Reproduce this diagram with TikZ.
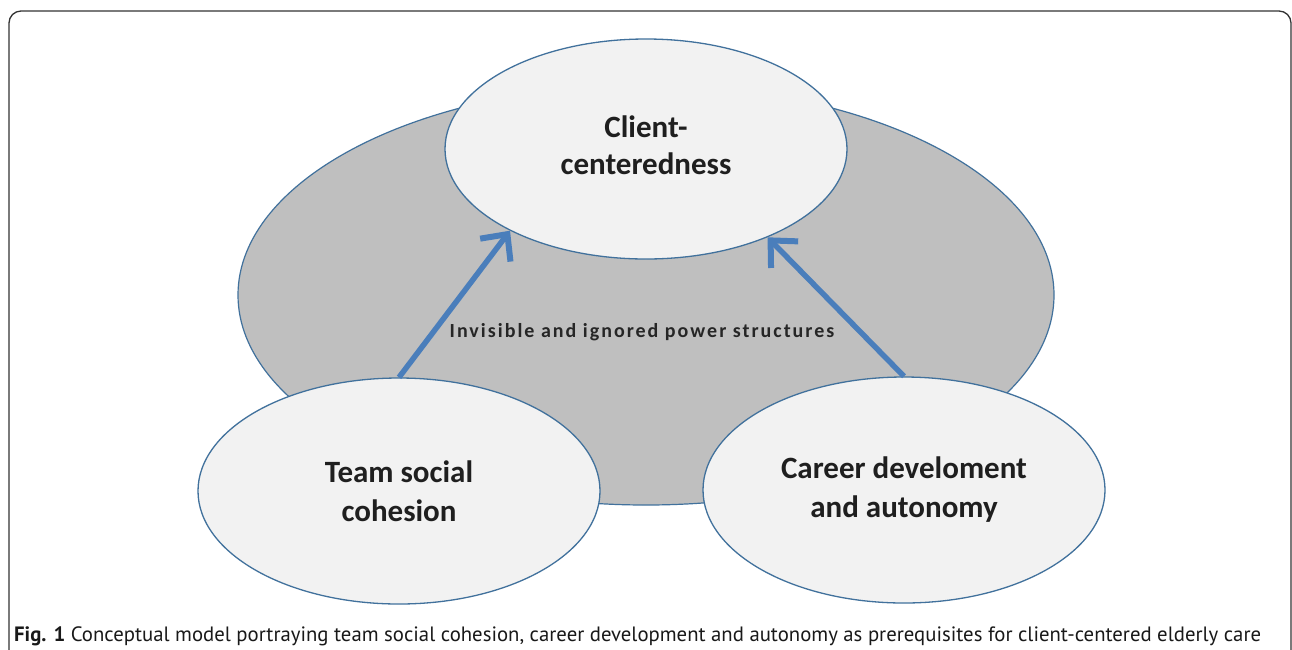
\documentclass[tikz,border=0pt]{standalone}
\usepackage{fontspec}
\setmainfont{Carlito}
\newfontfamily\capfont{PT Sans}
\newfontfamily\powerfont[LetterSpace=10]{Carlito}
\usetikzlibrary{shapes.geometric,arrows.meta}
\definecolor{edgeblue}{HTML}{41719C}
\definecolor{arrowblue}{HTML}{4A7EBB}
\definecolor{lightfill}{HTML}{F2F2F2}
\definecolor{grayfill}{HTML}{BFBFBF}
\definecolor{framegray}{HTML}{333333}
\begin{document}
\begin{tikzpicture}[x=1pt,y=-1pt,
  bubble/.style={ellipse,draw=edgeblue,line width=1.3pt,fill=lightfill,inner sep=0pt,
    minimum width=402pt,minimum height=226pt,align=center,
    font=\fontsize{31}{39}\selectfont\bfseries,text=black!88},
  flow/.style={draw=arrowblue,line width=5.5pt,
    -{Straight Barb[length=20pt,width=38pt,line width=6pt]}}]
\useasboundingbox (0,0) rectangle (1292,649);
\fill[white] (0,0) rectangle (1292,649);
% frame
\draw[framegray,line width=1.3pt] (9,660) -- (9,23) arc[start angle=180,end angle=270,radius=12] -- (1279,11) arc[start angle=270,end angle=360,radius=12] -- (1291,660);
% background ellipse
\node[ellipse,draw=edgeblue,line width=1.2pt,fill=grayfill,minimum width=816pt,minimum height=420pt,inner sep=0pt] (bg) at (646,295) {};
\node[bubble,minimum height=220pt,font=\fontsize{31}{37}\selectfont\bfseries] (client) at (646,149) {\raisebox{7pt}{\begin{tabular}{@{}c@{}}Client-\\centeredness\end{tabular}}};
\node[bubble] (team) at (399,491) {Team social\\cohesion};
\node[bubble] (career) at (904,490) {\raisebox{-2pt}{\begin{tabular}{@{}c@{}}Career develoment\\and autonomy\end{tabular}}};
\node[font=\powerfont\fontsize{20}{24}\selectfont\bfseries,text=black!85] (power) at (642,332) {Invisible and ignored power structures};
\draw[flow] (team.north) -- (client.-149);
\draw[flow] (career.north) -- (client.-36);
\node[anchor=west,font=\capfont\fontsize{20.75}{24}\selectfont,inner sep=0pt,text=black!90] (cap) at (14,636) {\textbf{Fig. 1} Conceptual model portraying team social cohesion, career development and autonomy as prerequisites for client-centered elderly care};
\end{tikzpicture}
\end{document}
